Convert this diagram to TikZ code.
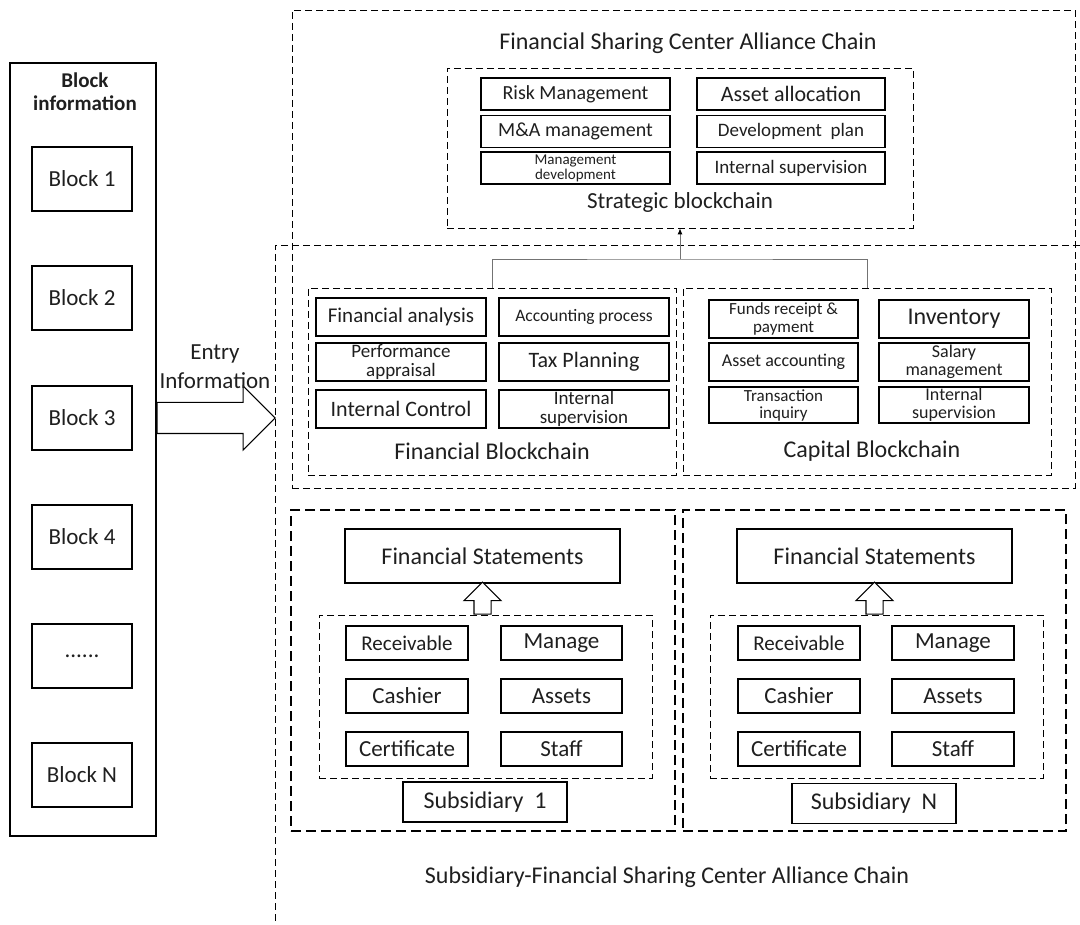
\documentclass[tikz,border=0pt]{standalone}
\usepackage{fontspec}
\setmainfont{Carlito}
\usetikzlibrary{shapes.arrows,arrows.meta}

\newcommand{\fsz}[2]{\fontsize{#1}{#2}\selectfont}

\begin{document}
\begin{tikzpicture}[x=1pt,y=-1pt,
    every node/.style={text=black!88},
    item/.style={draw, line width=1.1pt, inner sep=0pt, align=center},
    blockbox/.style={item, minimum width=100, minimum height=64, font=\fsz{23}{26}},
    zone/.style={draw, dash pattern=on 7pt off 4pt, line width=0.8pt, inner sep=0pt},
    subzone/.style={draw, dash pattern=on 10pt off 5pt, line width=1.6pt, inner sep=0pt},
    hollow/.style={draw, line width=1.1pt, fill=white, shape=single arrow,
      single arrow head indent=0pt, inner xsep=0pt},
    link/.style={draw=black!55, line width=0.8pt}
  ]
  \path[use as bounding box, fill=white] (0,0) rectangle (1080,925);

  % block information column
  \node[draw, line width=1.1pt, minimum width=146, minimum height=773] (info) at (83,449.5) {};
  \node[align=center, font=\bfseries\fsz{21}{23}] (infotitle) at (85,92) {Block\\information};
  \node[blockbox] (b1) at (82,179) {Block 1};
  \node[blockbox] (b2) at (82,298) {Block 2};
  \node[blockbox] (b3) at (82,418) {Block 3};
  \node[blockbox] (b4) at (82,537) {Block 4};
  \node[blockbox] (bdots) at (82,656) {......};
  \node[blockbox] (bn) at (82,775) {Block N};

  % entry arrow
  \node[hollow, anchor=tail, minimum height=118, minimum width=63, inner ysep=15pt,
    single arrow head extend=16.5pt] (entry) at (info.east |- 0,418) {};
  \node[align=center, font=\fsz{23}{29}] (entrytext) at (215,367) {Entry\\Information};

  % financial sharing center alliance chain
  \draw[dash pattern=on 7pt off 4pt, line width=0.8pt] (1080,245) -- (275,245) -- (275,925);
  \node[zone, minimum width=783, minimum height=478] (alliance) at (683.5,249) {};
  \node[font=\fsz{24}{26}] (alliancetext) at (688,43) {Financial Sharing Center Alliance Chain};

  % strategic blockchain
  \node[zone, minimum width=466, minimum height=160] (strat) at (680,148) {};
  \node[item, minimum width=189, minimum height=32, font=\fsz{20}{22}] (risk) at (575.5,94) {Risk Management};
  \node[item, minimum width=188, minimum height=32, font=\fsz{22}{24}] (alloc) at (791,94) {Asset allocation};
  \node[item, minimum width=189, minimum height=32, font=\fsz{20}{22}] (mna) at (575.5,131.5) {M\&A management};
  \node[item, minimum width=188, minimum height=32, font=\fsz{19}{22}] (devplan) at (791,131.5) {Development\ \ plan};
  \node[item, minimum width=189, minimum height=32, font=\fsz{15}{15}] (mgmtdev) at (575.5,168) {Management\\development};
  \node[item, minimum width=188, minimum height=32, font=\fsz{19}{22}] (stratsup) at (791,168) {Internal supervision};
  \node[font=\fsz{23}{25}] (strattext) at (680,202) {Strategic blockchain};

  % financial blockchain
  \node[zone, minimum width=368, minimum height=187] (fin) at (492,381.5) {};
  \node[item, minimum width=170, minimum height=38, font=\fsz{21}{23}] (analysis) at (401,317) {Financial analysis};
  \node[item, minimum width=170, minimum height=38, font=\fsz{17.5}{20}] (accproc) at (584,317) {Accounting process};
  \node[item, minimum width=170, minimum height=38, font=\fsz{19}{19}] (perf) at (401,362) {Performance\\appraisal};
  \node[item, minimum width=170, minimum height=38, font=\fsz{22}{24}] (tax) at (584,362) {Tax Planning};
  \node[item, minimum width=170, minimum height=38, font=\fsz{22}{24}] (control) at (401,409) {Internal Control};
  \node[item, minimum width=170, minimum height=38, font=\fsz{19}{19}] (finsup) at (584,409) {Internal\\supervision};
  \node[font=\fsz{24}{26}] (fintext) at (492,451) {Financial Blockchain};

  % capital blockchain
  \node[zone, minimum width=368, minimum height=187] (cap) at (867,381.5) {};
  \node[item, minimum width=149, minimum height=38, font=\fsz{17}{18}] (funds) at (783.5,319) {Funds receipt \&\\payment};
  \node[item, minimum width=150, minimum height=38, font=\fsz{24}{26}] (inventory) at (954,319) {Inventory};
  \node[item, minimum width=149, minimum height=38, font=\fsz{18}{20}] (assetacc) at (783.5,362) {Asset accounting};
  \node[item, minimum width=150, minimum height=38, font=\fsz{18}{18}] (salary) at (954,362) {Salary\\management};
  \node[item, minimum width=149, minimum height=36, font=\fsz{17}{17}] (inquiry) at (783.5,405) {Transaction\\inquiry};
  \node[item, minimum width=150, minimum height=36, font=\fsz{18}{18}] (capsup) at (954,405) {Internal\\supervision};
  \node[font=\fsz{24}{26}] (captext) at (872,451) {Capital Blockchain};

  % links up to the strategic chain
  \coordinate (join) at (680,259);
  \draw[link] (fin.north) |- (join) -| (cap.north);
  \draw[link, -{Latex[length=6pt, width=5pt, color=black]}] (join) -- (strat.south);

  % subsidiary 1
  \node[subzone, minimum width=384, minimum height=321] (sub1) at (483,670.5) {};
  \node[item, minimum width=275, minimum height=54, font=\fsz{24}{26}] (fs1) at (482.5,556) {Financial Statements};
  \node[zone, minimum width=333, minimum height=163] (acc1) at (485.5,696.5) {};
  \node[item, minimum width=122, minimum height=34, font=\fsz{21}{23}] (recv1) at (407,643) {Receivable};
  \node[item, minimum width=121, minimum height=34, font=\fsz{23}{25}] (manage1) at (561.5,643) {Manage};
  \node[item, minimum width=122, minimum height=34, font=\fsz{23}{25}] (cashier1) at (407,696) {Cashier};
  \node[item, minimum width=121, minimum height=34, font=\fsz{23}{25}] (assets1) at (561.5,696) {Assets};
  \node[item, minimum width=122, minimum height=34, font=\fsz{23}{25}] (cert1) at (407,749) {Certificate};
  \node[item, minimum width=121, minimum height=34, font=\fsz{23}{25}] (staff1) at (561.5,749) {Staff};
  \node[item, minimum width=164, minimum height=40, font=\fsz{24}{26}] (name1) at (485,802) {Subsidiary\ \ 1};
  \node[hollow, rotate=90, anchor=tail, minimum height=32, minimum width=36, inner ysep=8pt,
    single arrow head extend=10pt] (up1) at (fs1.south |- acc1.north) {};

  % subsidiary N
  \node[subzone, minimum width=383, minimum height=321] (subn) at (874.5,670.5) {};
  \node[item, minimum width=275, minimum height=54, font=\fsz{24}{26}] (fsn) at (874.5,556) {Financial Statements};
  \node[zone, minimum width=333, minimum height=163] (accn) at (876.5,696.5) {};
  \node[item, minimum width=122, minimum height=34, font=\fsz{21}{23}] (recvn) at (799,643) {Receivable};
  \node[item, minimum width=122, minimum height=34, font=\fsz{23}{25}] (managen) at (953,643) {Manage};
  \node[item, minimum width=122, minimum height=34, font=\fsz{23}{25}] (cashiern) at (799,696) {Cashier};
  \node[item, minimum width=122, minimum height=34, font=\fsz{23}{25}] (assetsn) at (953,696) {Assets};
  \node[item, minimum width=122, minimum height=34, font=\fsz{23}{25}] (certn) at (799,749) {Certificate};
  \node[item, minimum width=122, minimum height=34, font=\fsz{23}{25}] (staffn) at (953,749) {Staff};
  \node[item, minimum width=164, minimum height=40, font=\fsz{24}{26}] (namen) at (874,803.5) {Subsidiary\ \ N};
  \node[hollow, rotate=90, anchor=tail, minimum height=32, minimum width=36, inner ysep=8pt,
    single arrow head extend=10pt] (upn) at (fsn.south |- accn.north) {};

  \node[font=\fsz{24}{26}] (subtext) at (667,877) {Subsidiary-Financial Sharing Center Alliance Chain};
\end{tikzpicture}
\end{document}
